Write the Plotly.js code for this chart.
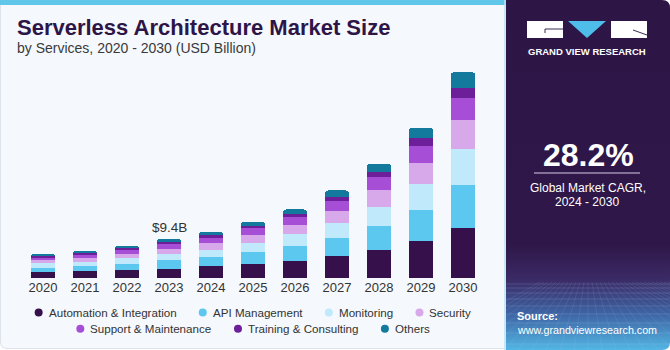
<!DOCTYPE html>
<html>
<head>
<meta charset="utf-8">
<script src="https://cdn.plot.ly/plotly-3.0.1.min.js"></script>
<style>
  html, body { margin: 0; padding: 0; background: #ffffff; }
  #chart { width: 670px; height: 350px; }
</style>
</head>
<body>
<div id="chart"></div>
<script>
// ---------------- data ----------------
const years = ['2020','2021','2022','2023','2024','2025','2026','2027','2028','2029','2030'];
const seriesNames = ['Automation & Integration','API Management','Monitoring','Security','Support & Maintenance','Training & Consulting','Others'];
const automation = [1.52,1.59,1.83,2.24,2.80,3.45,4.00,5.20,6.82,8.82,12.05];
const apiManagement = [0.96,1.37,1.61,2.17,2.17,2.72,3.78,4.43,5.61,7.64,10.27];
const monitoring = [1.13,0.96,1.37,1.37,1.86,2.27,2.72,3.69,4.75,6.19,8.77];
const security = [0.63,0.89,1.04,1.28,1.52,2.00,2.17,2.82,4.02,5.20,7.06];
const support = [0.58,0.72,0.89,1.13,1.30,1.52,1.93,2.48,3.13,4.10,5.23];
const training = [0.39,0.39,0.39,0.48,0.63,0.65,0.82,1.04,1.28,1.78,2.48];
const others = [0.65,0.65,0.65,0.72,0.89,0.89,1.11,1.45,2.00,2.55,3.78];
const highlightYear = '2023';
const highlightLabel = '$9.4B';
const cagrText = '28.2%';
const cagrLabel = ['Global Market CAGR,', '2024 - 2030'];

// ---------------- styles ----------------
const colors = ['#36104a','#5cc8f0','#c0e9fb','#d7a9ea','#a64fd6','#6c1f99','#137a9e'];
const values = [automation, apiManagement, monitoring, security, support, training, others];
const FONT = '"Liberation Sans", Arial, sans-serif';

const W = 670, H = 350, L = 22, R = 186, T = 50, B = 72;
const PW = W - L - R, PH = H - T - B;
const X = px => (px - L) / PW;
const Y = py => (H - B - py) / PH;

const traces = seriesNames.map((n, i) => ({
  type: 'bar', name: n, x: years, y: values[i],
  marker: { color: colors[i], line: { width: 0 } },
  showlegend: false, hoverinfo: 'skip'
}));

const shapes = [];
const annotations = [];
function ann(text, px, py, size, color, opts) {
  annotations.push(Object.assign({
    text: text, xref: 'paper', yref: 'paper', x: X(px), y: Y(py),
    xanchor: 'left', yanchor: 'middle', showarrow: false,
    borderpad: 0, borderwidth: 0,
    font: { family: FONT, size: size, color: color }
  }, opts || {}));
}
function P(pts) { return pts.map(p => p[0] + X(p[1]) + ',' + Y(p[2])).join(' '); }

// left chart panel
shapes.push({ type: 'path', xref: 'paper', yref: 'paper', layer: 'below',
  path: P([['M',0.5,0],['L',505,0],['L',505,348.5],['L',7,348.5],['Q',0.5,348.5],['',0.5,342]]) + ' Z',
  fillcolor: '#f5f8fc', line: { color: '#dde3ea', width: 1 } });
shapes.push({ type: 'rect', xref: 'paper', yref: 'paper', layer: 'below',
  x0: X(0), x1: X(506), y0: Y(5), y1: Y(0), fillcolor: '#60c6ea', line: { width: 0 } });
shapes.push({ type: 'line', xref: 'paper', yref: 'paper', layer: 'below',
  x0: X(505), x1: X(505), y0: Y(0), y1: Y(350), line: { color: '#bfe5f4', width: 1.5 } });

// logo
shapes.push({ type: 'rect', xref: 'paper', yref: 'paper', x0: X(527), x1: X(563), y0: Y(38), y1: Y(21), fillcolor: '#ffffff', line: { width: 0 } });
shapes.push({ type: 'rect', xref: 'paper', yref: 'paper', x0: X(611), x1: X(647), y0: Y(38), y1: Y(21), fillcolor: '#ffffff', line: { width: 0 } });
shapes.push({ type: 'path', xref: 'paper', yref: 'paper', path: P([['M',568,21],['L',606,21],['L',587,38]]) + ' Z', fillcolor: '#4fbdea', line: { width: 0 } });
shapes.push({ type: 'path', xref: 'paper', yref: 'paper', path: P([['M',545,33],['L',545,29],['L',563,29]]), line: { color: '#3a2a55', width: 1 } });
shapes.push({ type: 'line', xref: 'paper', yref: 'paper', x0: X(633), y0: Y(30), x1: X(647), y1: Y(35), line: { color: '#3a2a55', width: 1 } });
// CAGR divider
shapes.push({ type: 'line', xref: 'paper', yref: 'paper', x0: X(534), x1: X(640), y0: Y(173), y1: Y(173), line: { color: '#d9cce8', width: 1 } });

// right panel as svg background (gradient + grid)
let grid = '';
const hy = [284, 288, 293, 299, 306, 314, 323, 333, 344];
hy.forEach(y => { grid += `<line x1='0' y1='${y}' x2='164' y2='${y}' stroke='rgba(190,220,255,0.22)' stroke-width='0.7'/>`; });
for (let k = -12; k <= 24; k++) {
  const xt = 82 + k * 4, xb = 82 + k * 14;
  grid += `<line x1='${xt}' y1='282' x2='${xb}' y2='350' stroke='rgba(190,220,255,0.18)' stroke-width='0.6'/>`;
}
const svg = `<svg xmlns='http://www.w3.org/2000/svg' width='164' height='350' viewBox='0 0 164 350'>` +
  `<defs><linearGradient id='g' x1='0' y1='0' x2='0' y2='1'>` +
  `<stop offset='0' stop-color='#2d1646'/><stop offset='0.70' stop-color='#2f1749'/>` +
  `<stop offset='0.80' stop-color='#3b2b66'/><stop offset='0.90' stop-color='#3f66a6'/>` +
  `<stop offset='1' stop-color='#52b6e4'/></linearGradient>` +
  `<clipPath id='c'><path d='M0 0 H156 Q164 0 164 8 V342 Q164 350 156 350 H0 Z'/></clipPath></defs>` +
  `<g clip-path='url(#c)'><rect width='164' height='350' fill='url(#g)'/>${grid}</g></svg>`;
const images = [{
  source: 'data:image/svg+xml;charset=utf-8,' + encodeURIComponent(svg),
  xref: 'paper', yref: 'paper', x: X(506), y: Y(0), sizex: (670 - 506) / PW, sizey: 350 / PH,
  xanchor: 'left', yanchor: 'top', sizing: 'stretch', layer: 'below'
}];

// titles
ann('<b>Serverless Architecture Market Size</b>', 17, 28, 22, '#2e1547');
ann('by Services, 2020 - 2030 (USD Billion)', 17, 48, 14, '#3a3a3a');

// panel text
ann('<b>GRAND VIEW RESEARCH</b>', 587, 51, 9.5, '#ffffff', { xanchor: 'center' });
ann('<b>' + cagrText + '</b>', 588, 155, 32, '#ffffff', { xanchor: 'center' });
ann(cagrLabel[0], 587.5, 188, 12, '#ffffff', { xanchor: 'center' });
ann(cagrLabel[1], 586.5, 202, 12, '#ffffff', { xanchor: 'center' });
ann('<b>Source:</b>', 517, 316, 11, '#ffffff');
ann('www.grandviewresearch.com', 517, 329.5, 10.7, '#ffffff');

// highlight label (category index on the x axis)
const idx = years.indexOf(highlightYear);
const tot = values.reduce((s, arr) => s + arr[idx], 0);
annotations.push({ text: highlightLabel, xref: 'x', yref: 'y', x: idx, y: tot,
  yanchor: 'bottom', showarrow: false, yshift: 4, borderpad: 0, borderwidth: 0,
  font: { family: FONT, size: 13.5, color: '#333333' } });

// custom legend with round markers
const cv = document.createElement('canvas').getContext('2d');
const LFS = 11.6;
cv.font = LFS + 'px ' + FONT;
const rows = [[0,1,2,3],[4,5,6]];
const rowY = [312.5, 328.7];
const centerX = 253;
rows.forEach((row, r) => {
  const widths = row.map(i => cv.measureText(seriesNames[i]).width);
  let total = 0;
  widths.forEach((w, k) => { total += 4 + 10 + w + (k < row.length - 1 ? 22.5 : 0); });
  let cx = centerX - total / 2 + 4;
  row.forEach((i, k) => {
    const rad = 4;
    shapes.push({ type: 'circle', xref: 'paper', yref: 'paper',
      x0: X(cx - rad), x1: X(cx + rad), y0: Y(rowY[r] + rad), y1: Y(rowY[r] - rad),
      fillcolor: colors[i], line: { width: 0 } });
    ann(seriesNames[i], cx + 10, rowY[r], LFS, '#333333');
    cx += 10 + widths[k] + 22.5 + 4;
  });
});

const layout = {
  width: W, height: H,
  margin: { l: L, r: R, t: T, b: B, pad: 0 },
  paper_bgcolor: '#ffffff', plot_bgcolor: 'rgba(0,0,0,0)',
  barmode: 'stack', bargap: 0.43, barcornerradius: 3,
  showlegend: false,
  font: { family: FONT, color: '#333333' },
  xaxis: { type: 'category', range: [-0.5, years.length - 0.5], autorange: false,
    showgrid: false, zeroline: false, showline: false, ticks: '',
    tickfont: { family: FONT, size: 13, color: '#333333' }, fixedrange: true },
  yaxis: { range: [0, 55], autorange: false, visible: false, showgrid: false, zeroline: false, fixedrange: true },
  shapes: shapes, annotations: annotations, images: images
};

Plotly.newPlot('chart', traces, layout, { displayModeBar: false, staticPlot: true });
</script>
</body>
</html>
